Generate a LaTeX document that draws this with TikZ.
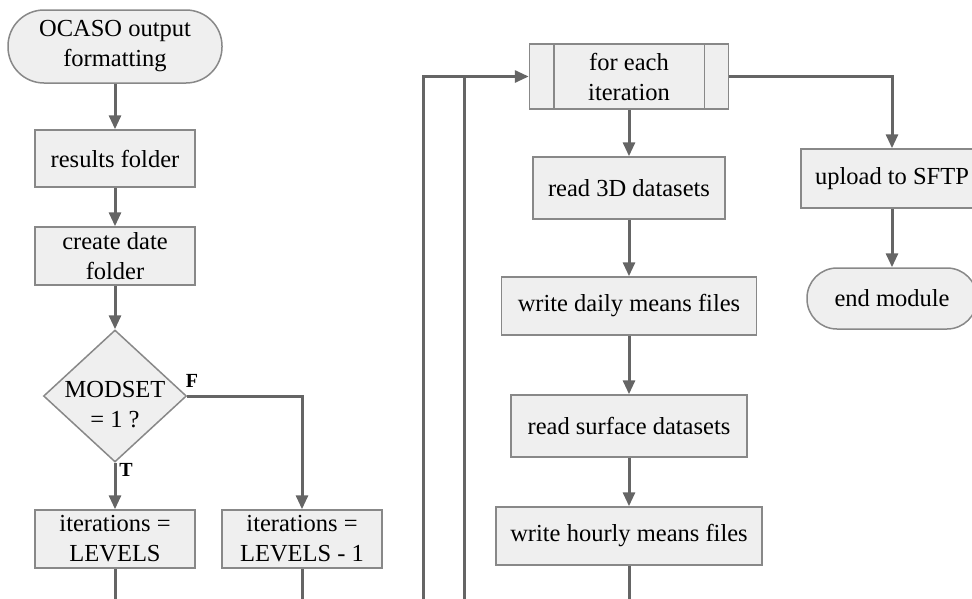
\documentclass[tikz,border=0pt]{standalone}
\usepackage{fontspec}
\setmainfont{Liberation Serif}
\usetikzlibrary{arrows.meta,shapes.geometric}
\definecolor{boxfill}{HTML}{EFEFEF}
\definecolor{boxline}{HTML}{888888}
\definecolor{flowline}{HTML}{656565}
\tikzset{
  base/.style={draw=boxline, fill=boxfill, line width=1.5pt, inner sep=0pt,
    align=center, font=\fontsize{24.5}{30}\selectfont},
  stepbox/.style={base, rectangle},
  term/.style={base, rectangle, rounded corners=30pt},
  decision/.style={base, diamond},
  flow/.style={draw=flowline, line width=3pt},
  arr/.style={flow, -{Triangle[length=14pt,width=12pt]}},
  tf/.style={font=\fontsize{20}{22}\selectfont\bfseries, inner sep=0pt}
}
\begin{document}
\begin{tikzpicture}[x=1pt, y=-1pt]
\useasboundingbox (0,0) rectangle (972,598);

% left column
\node[term, rounded corners=36pt, minimum width=214pt, minimum height=73pt] (start) at (115,46.5) {OCASO output\\formatting};
\node[stepbox, minimum width=160pt, minimum height=57pt] (results) at (115,158.5) {results folder};
\node[stepbox, minimum width=160pt, minimum height=58pt] (date) at (115,256) {create date\\folder};
\node[decision, minimum width=143pt, minimum height=132pt] (dec) at (115,396) {};
\node[align=center, font=\fontsize{24.5}{30}\selectfont, inner sep=0pt] (dectext) at (115,405) {MODSET\\= 1 ?};
\node[stepbox, minimum width=160pt, minimum height=58pt] (itT) at (115,539) {iterations =\\LEVELS};
\node[stepbox, minimum width=160pt, minimum height=58pt] (itF) at (302,539) {iterations =\\LEVELS - 1};

% loop body
\node[stepbox, minimum width=199pt, minimum height=65pt] (foreach) at (629,76.5) {for each\\iteration};
\draw[boxline, line width=1.5pt] ([xshift=25pt]foreach.north west) -- ([xshift=25pt]foreach.south west)
  ([xshift=-25pt]foreach.north east) -- ([xshift=-25pt]foreach.south east);
\node[stepbox, minimum width=192pt, minimum height=62pt] (read3d) at (629,188) {read 3D datasets};
\node[stepbox, minimum width=255pt, minimum height=58pt] (daily) at (629,306) {write daily means files};
\node[stepbox, minimum width=236pt, minimum height=62pt] (surface) at (629,426) {read surface datasets};
\node[stepbox, minimum width=266pt, minimum height=58pt] (hourly) at (629,536) {write hourly means files};

% finishing steps
\node[stepbox, minimum width=182pt, minimum height=59pt] (upload) at (892,178.5) {upload to SFTP};
\node[term, minimum width=170pt, minimum height=61pt] (endm) at (892,298.5) {end module};

% free line ends at the lower edge
\coordinate (tEnd) at (115,600);
\coordinate (fEnd) at (302,600);
\coordinate (hEnd) at (629,600);
\coordinate (loopA) at (423,600);
\coordinate (loopB) at (464,600);

% connectors
\draw[arr] (start) -- (results);
\draw[arr] (results) -- (date);
\draw[arr] (date) -- (dec);
\draw[arr] (dec.south) -- (itT);
\draw[arr] (dec.east) -| (itF.north);
\node[tf] (flab) at (192,381) {F};
\node[tf] (tlab) at (126,470) {T};
\draw[flow] (itT) -- (tEnd);
\draw[flow] (itF) -- (fEnd);

\draw[arr] (loopA) |- (foreach.west);
\draw[flow] (loopB) -- (loopB |- foreach.west);
\draw[arr] (foreach) -- (read3d);
\draw[arr] (read3d) -- (daily);
\draw[arr] (daily) -- (surface);
\draw[arr] (surface) -- (hourly);
\draw[flow] (hourly) -- (hEnd);

\draw[arr] (foreach.east) -| (upload.north);
\draw[arr] (upload) -- (endm);
\end{tikzpicture}
\end{document}
